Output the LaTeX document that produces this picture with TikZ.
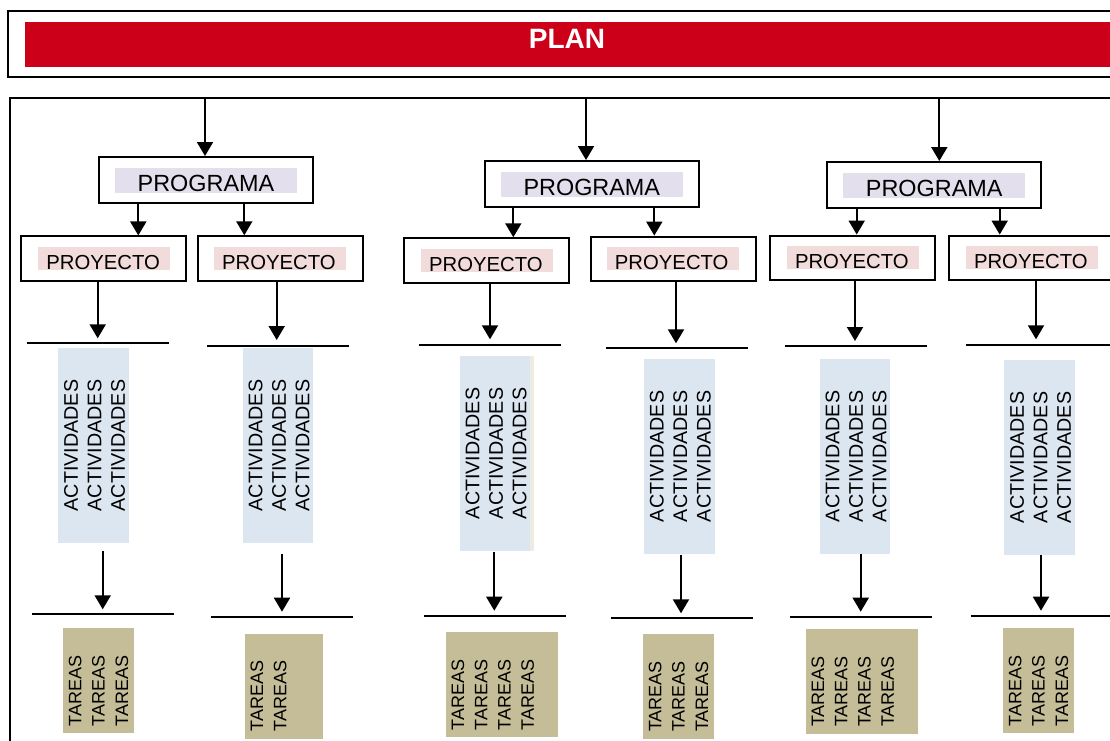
\documentclass[tikz,border=0pt]{standalone}
\usepackage{fontspec}
\setmainfont{Liberation Sans}
\usetikzlibrary{arrows.meta}
\definecolor{planred}{HTML}{CC0018}
\definecolor{progfill}{HTML}{E4DFEC}
\definecolor{projfill}{HTML}{F2DCDB}
\definecolor{actfill}{HTML}{DCE6F1}
\definecolor{tarfill}{HTML}{C4BD97}
\definecolor{stripefill}{HTML}{EEECE1}
\begin{document}
\begin{tikzpicture}[x=1pt,y=-1pt,
  frame/.style={draw=black, line width=2.2pt},
  arr/.style={-{Triangle[width=16pt,length=14pt]}, line width=2pt},
  hline/.style={line width=2pt},
  progbox/.style={draw=black, line width=2pt, minimum width=214pt, minimum height=46pt, inner sep=0pt},
  projbox/.style={draw=black, line width=2pt, minimum width=165pt, minimum height=44.5pt, inner sep=0pt},
  progfillst/.style={fill=progfill, minimum width=182pt, minimum height=24.5pt, inner sep=0pt},
  projfillst/.style={fill=projfill, minimum width=132pt, minimum height=23pt, inner sep=0pt},
  progtxt/.style={font=\fontsize{23.4}{28}\selectfont, inner sep=0pt, anchor=base},
  projtxt/.style={font=\fontsize{20.3}{24}\selectfont, inner sep=0pt, anchor=base},
  actblock/.style={fill=actfill, minimum width=70.5pt, minimum height=194.5pt, inner sep=0pt},
  tarblock/.style={fill=tarfill, minimum height=104.5pt, inner sep=0pt},
  acttxt/.style={font=\fontsize{19.7}{23.5}\selectfont, rotate=90, align=left, inner sep=0pt},
  tartxt/.style={font=\fontsize{18}{23.3}\selectfont, rotate=90, align=left, inner sep=0pt, anchor=north west},
  plantxt/.style={font=\fontsize{28}{34}\selectfont\bfseries, text=white, inner sep=0pt, anchor=base}
]
\useasboundingbox (0,0) rectangle (1110,740);
\clip (0,0) rectangle (1110,740);

% header
\draw[frame] (8,11) rectangle (1130,77);
\fill[planred] (25,22) rectangle (1130,67);
\node[plantxt] (plan) at (567,48.3) {PLAN};

% main frame
\draw[frame] (10,98) rectangle (1130,760);

% PROGRAMA boxes
\node[progbox] (G1) at (205.5,180) {};
\node[progbox] (G2) at (592,184) {};
\node[progbox] (G3) at (934.2,185) {};
\node[progfillst] (G1f) at (206,180.5) {};
\node[progfillst] (G2f) at (591.8,184.5) {};
\node[progfillst] (G3f) at (934.2,185.5) {};
\node[progtxt] (G1t) at ([yshift=1pt]G1f.south) {PROGRAMA};
\node[progtxt] (G2t) at ([yshift=1pt]G2f.south) {PROGRAMA};
\node[progtxt] (G3t) at ([yshift=1pt]G3f.south) {PROGRAMA};

% arrows into PROGRAMA
\coordinate (f1) at (205,98);
\coordinate (f2) at (586,98);
\coordinate (f3) at (939.3,98);
\draw[arr] (f1) -- (G1.north -| f1);
\draw[arr] (f2) -- (G2.north -| f2);
\draw[arr] (f3) -- (G3.north -| f3);

% PROYECTO boxes
\node[projbox] (P1) at (103.4,258.7) {};
\node[projbox] (P2) at (280.8,258.5) {};
\node[projbox] (P3) at (486.5,260.5) {};
\node[projbox] (P4) at (673.2,258.8) {};
\node[projbox] (P5) at (852.5,257.8) {};
\node[projbox] (P6) at (1031.8,257.8) {};
\node[projfillst] (P1f) at (104.2,258.7) {};
\node[projfillst] (P2f) at (279.9,258.7) {};
\node[projfillst] (P3f) at (486.9,260.5) {};
\node[projfillst] (P4f) at (672.7,258.3) {};
\node[projfillst] (P5f) at (852.8,257.5) {};
\node[projfillst] (P6f) at (1031.8,257.5) {};
\node[projtxt] (P1t) at ([xshift=-1pt,yshift=1pt]P1f.south) {PROYECTO};
\node[projtxt] (P2t) at ([xshift=-1pt,yshift=1pt]P2f.south) {PROYECTO};
\node[projtxt] (P3t) at ([xshift=-1pt,yshift=1pt]P3f.south) {PROYECTO};
\node[projtxt] (P4t) at ([xshift=-1pt,yshift=1pt]P4f.south) {PROYECTO};
\node[projtxt] (P5t) at ([xshift=-1pt,yshift=1pt]P5f.south) {PROYECTO};
\node[projtxt] (P6t) at ([xshift=-1pt,yshift=1pt]P6f.south) {PROYECTO};

% arrows PROGRAMA -> PROYECTO
\coordinate (k1) at (138.3,0);
\coordinate (k2) at (244.3,0);
\coordinate (k3) at (513.3,0);
\coordinate (k4) at (654.3,0);
\coordinate (k5) at (856.7,0);
\coordinate (k6) at (999.7,0);
\draw[arr] (G1.south -| k1) -- (P1.north -| k1);
\draw[arr] (G1.south -| k2) -- (P2.north -| k2);
\draw[arr] (G2.south -| k3) -- (P3.north -| k3);
\draw[arr] (G2.south -| k4) -- (P4.north -| k4);
\draw[arr] (G3.south -| k5) -- (P5.north -| k5);
\draw[arr] (G3.south -| k6) -- (P6.north -| k6);

% upper lines
\coordinate (L1a) at (26.7,343.3);  \coordinate (L1b) at (169.3,343.3);
\coordinate (L2a) at (206.7,346);   \coordinate (L2b) at (348.7,346);
\coordinate (L3a) at (419,345);     \coordinate (L3b) at (561,345);
\coordinate (L4a) at (606,347.7);   \coordinate (L4b) at (747.7,347.7);
\coordinate (L5a) at (785,346);     \coordinate (L5b) at (927.3,346);
\coordinate (L6a) at (966,345);     \coordinate (L6b) at (1115,345);
\draw[hline] (L1a) -- (L1b);
\draw[hline] (L2a) -- (L2b);
\draw[hline] (L3a) -- (L3b);
\draw[hline] (L4a) -- (L4b);
\draw[hline] (L5a) -- (L5b);
\draw[hline] (L6a) -- (L6b);

% arrows PROYECTO -> line
\coordinate (t1) at (97.7,338.3);
\coordinate (t2) at (276.7,340);
\coordinate (t3) at (490,339.3);
\coordinate (t4) at (676,343.3);
\coordinate (t5) at (855,341);
\coordinate (t6) at (1036,339.3);
\draw[arr] (P1.south -| t1) -- (t1);
\draw[arr] (P2.south -| t2) -- (t2);
\draw[arr] (P3.south -| t3) -- (t3);
\draw[arr] (P4.south -| t4) -- (t4);
\draw[arr] (P5.south -| t5) -- (t5);
\draw[arr] (P6.south -| t6) -- (t6);

% ACTIVIDADES blocks
\node[actblock] (A1) at (93.7,445.5) {};
\node[actblock] (A2) at (278,445.5) {};
\fill[stripefill] (530,356) rectangle (534,550.7);
\node[actblock] (A3) at (495,453.4) {};
\node[actblock] (A4) at (679.4,456.4) {};
\node[actblock] (A5) at (855,456.4) {};
\node[actblock] (A6) at (1039.5,457.4) {};
\node[acttxt] (A1t) at ([xshift=1pt]A1.center) {ACTIVIDADES\\ACTIVIDADES\\ACTIVIDADES};
\node[acttxt] (A2t) at ([xshift=1pt]A2.center) {ACTIVIDADES\\ACTIVIDADES\\ACTIVIDADES};
\node[acttxt] (A3t) at ([xshift=1pt]A3.center) {ACTIVIDADES\\ACTIVIDADES\\ACTIVIDADES};
\node[acttxt] (A4t) at ([xshift=1pt]A4.center) {ACTIVIDADES\\ACTIVIDADES\\ACTIVIDADES};
\node[acttxt] (A5t) at ([xshift=1pt]A5.center) {ACTIVIDADES\\ACTIVIDADES\\ACTIVIDADES};
\node[acttxt] (A6t) at ([xshift=1pt]A6.center) {ACTIVIDADES\\ACTIVIDADES\\ACTIVIDADES};

% lower lines
\coordinate (M1a) at (32.3,614.3);  \coordinate (M1b) at (174.3,614.3);
\coordinate (M2a) at (211.3,616.7); \coordinate (M2b) at (353.3,616.7);
\coordinate (M3a) at (424,615.7);   \coordinate (M3b) at (565.7,615.7);
\coordinate (M4a) at (610.7,618.3); \coordinate (M4b) at (752.7,618.3);
\coordinate (M5a) at (790,616.7);   \coordinate (M5b) at (932.3,616.7);
\coordinate (M6a) at (970.7,616);   \coordinate (M6b) at (1115,616);
\draw[hline] (M1a) -- (M1b);
\draw[hline] (M2a) -- (M2b);
\draw[hline] (M3a) -- (M3b);
\draw[hline] (M4a) -- (M4b);
\draw[hline] (M5a) -- (M5b);
\draw[hline] (M6a) -- (M6b);

% arrows ACTIVIDADES -> line
\coordinate (e1) at (102.7,609.3);
\coordinate (e2) at (282,611.7);
\coordinate (e3) at (494.3,610.7);
\coordinate (e4) at (681,613.3);
\coordinate (e5) at (860.7,611.7);
\coordinate (e6) at (1041,610.7);
\draw[arr, shorten <=8pt] (A1.south -| e1) -- (e1);
\draw[arr, shorten <=10.6pt] (A2.south -| e2) -- (e2);
\draw[arr, shorten <=1.6pt] (A3.south -| e3) -- (e3);
\draw[arr, shorten <=1.3pt] (A4.south -| e4) -- (e4);
\draw[arr] (A5.south -| e5) -- (e5);
\draw[arr] (A6.south -| e6) -- (e6);

% TAREAS blocks
\node[tarblock, minimum width=70.7pt] (T1) at (98.7,680.5) {};
\node[tarblock, minimum width=78pt] (T2) at (284,686.4) {};
\node[tarblock, minimum width=112pt] (T3) at (502,684.5) {};
\node[tarblock, minimum width=70.7pt] (T4) at (678.7,686.5) {};
\node[tarblock, minimum width=112pt] (T5) at (862,681.5) {};
\node[tarblock, minimum width=70.7pt] (T6) at (1038.7,680.5) {};
\node[tartxt] (T1t) at ([xshift=5.5pt,yshift=6.5pt]T1.south west) {TAREAS\\TAREAS\\TAREAS};
\node[tartxt] (T2t) at ([xshift=5.5pt,yshift=7.5pt]T2.south west) {TAREAS\\TAREAS};
\node[tartxt] (T3t) at ([xshift=5.5pt,yshift=6.5pt]T3.south west) {TAREAS\\TAREAS\\TAREAS\\TAREAS};
\node[tartxt] (T4t) at ([xshift=5.5pt,yshift=7pt]T4.south west) {TAREAS\\TAREAS\\TAREAS};
\node[tartxt] (T5t) at ([xshift=5.5pt,yshift=7pt]T5.south west) {TAREAS\\TAREAS\\TAREAS\\TAREAS};
\node[tartxt] (T6t) at ([xshift=5.5pt,yshift=6.5pt]T6.south west) {TAREAS\\TAREAS\\TAREAS};
\end{tikzpicture}
\end{document}
